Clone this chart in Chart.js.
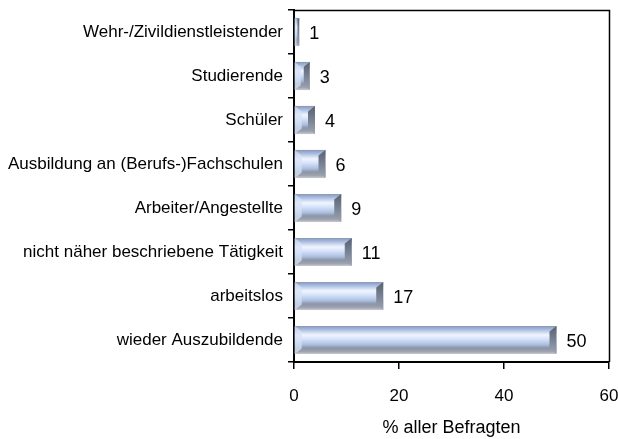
<!DOCTYPE html>
<html>
<head>
<meta charset="utf-8">
<script src="https://cdn.jsdelivr.net/npm/chart.js@4.4.0/dist/chart.umd.min.js"></script>
<style>
  html, body { margin: 0; padding: 0; background: #fff; }
  #wrap { width: 619px; height: 439px; }
</style>
</head>
<body>
<div id="wrap"><canvas id="bar-canvas" width="619" height="439"></canvas></div>
<script>
// data
const categories = [
  'Wehr-/Zivildienstleistender',
  'Studierende',
  'Schüler',
  'Ausbildung an (Berufs-)Fachschulen',
  'Arbeiter/Angestellte',
  'nicht näher beschriebene Tätigkeit',
  'arbeitslos',
  'wieder Auszubildende'
];
const percentValues = [1, 3, 4, 6, 9, 11, 17, 50];
const xTicks = [0, 20, 40, 60];
const axisTitle = '% aller Befragten';

const FONT = '"Liberation Sans", Arial, sans-serif';
const BAR_PCT = 0.64;

// vertical bevel gradient for each bar, from the y scale
function barFill(ctx) {
  const chart = ctx.chart;
  const ys = chart.scales.y;
  if (!ys || !ys.height) return '#b8c8e6';
  const mid = ys.getPixelForValue(ctx.dataIndex);
  const h = ys.height / categories.length * BAR_PCT;
  const top = mid - h / 2, bot = mid + h / 2;
  const g = chart.ctx.createLinearGradient(0, top, 0, bot);
  g.addColorStop(0, '#8796b4');
  g.addColorStop(0.12, '#a6badf');
  g.addColorStop(0.32, '#f0f6ff');
  g.addColorStop(0.48, '#d2e0f8');
  g.addColorStop(0.66, '#adbfe0');
  g.addColorStop(0.78, '#8c95a8');
  g.addColorStop(0.9, '#9aa1ae');
  g.addColorStop(1, '#c6cad2');
  return g;
}

// end caps + value labels + frame
const decor = {
  id: 'decor',
  afterDatasetsDraw(chart) {
    const c = chart.ctx;
    const meta = chart.getDatasetMeta(0);
    meta.data.forEach((bar, i) => {
      const top = bar.y - bar.height / 2, h = bar.height;
      const left = bar.base, right = bar.x;
      const cap = Math.min(7, (right - left) / 2.5);
      // right end bevel
      const g = c.createLinearGradient(0, top, 0, top + h);
      g.addColorStop(0, '#58606e');
      g.addColorStop(0.5, '#788294');
      g.addColorStop(1, '#a0a6b0');
      c.save();
      c.fillStyle = g;
      c.beginPath();
      c.moveTo(right, top);
      c.lineTo(right, top + h);
      c.lineTo(right - cap, top + h - cap * 0.8);
      c.lineTo(right - cap, top + cap * 0.8);
      c.closePath();
      c.fill();
      // left end bevel (lighter)
      c.fillStyle = 'rgba(214,226,246,0.75)';
      c.beginPath();
      c.moveTo(left, top);
      c.lineTo(left + cap, top + cap * 0.8);
      c.lineTo(left + cap, top + h - cap * 0.8);
      c.lineTo(left, top + h);
      c.closePath();
      c.fill();
      c.restore();

      c.save();
      c.fillStyle = '#000';
      c.font = '18px ' + FONT;
      c.textBaseline = 'middle';
      c.textAlign = 'left';
      c.fillText(String(percentValues[i]), right + 10, bar.y + 2);
      c.restore();
    });
    const a = chart.chartArea;
    c.save();
    c.strokeStyle = '#000';
    c.lineWidth = 1.5;
    c.beginPath();
    c.moveTo(a.left, a.top + 0.5);
    c.lineTo(a.right + 0.5, a.top + 0.5);
    c.lineTo(a.right + 0.5, a.bottom);
    c.stroke();
    c.restore();
  }
};

new Chart('bar-canvas', {
  type: 'bar',
  data: {
    labels: categories,
    datasets: [{
      data: percentValues,
      backgroundColor: barFill,
      borderWidth: 0,
      barPercentage: BAR_PCT,
      categoryPercentage: 1
    }]
  },
  options: {
    indexAxis: 'y',
    responsive: false,
    animation: false,
    layout: { padding: { top: 10, right: 10, left: 0, bottom: 0 } },
    plugins: {
      legend: { display: false },
      tooltip: { enabled: false }
    },
    scales: {
      x: {
        min: 0,
        max: 60,
        afterBuildTicks: (s) => { s.ticks = xTicks.map(v => ({ value: v })); },
        afterFit: (s) => { s.height = 77; s.paddingLeft = 0; s.paddingRight = 0; },
        border: { display: true, color: '#000', width: 2 },
        grid: { drawOnChartArea: false, drawTicks: true, tickLength: 7, color: '#000', lineWidth: 1.5 },
        ticks: { color: '#000', font: { family: FONT, size: 17 }, padding: 17, maxRotation: 0 },
        title: { display: true, text: axisTitle, color: '#000', font: { family: FONT, size: 18 }, padding: { top: 4, bottom: 0 } }
      },
      y: {
        afterFit: (s) => { s.width = 294; s.paddingTop = 0; s.paddingBottom = 0; },
        border: { display: true, color: '#000', width: 2 },
        grid: { drawOnChartArea: false, drawTicks: true, tickLength: 6, offset: true, color: '#000', lineWidth: 1.5 },
        ticks: { color: '#000', font: { family: FONT, size: 17 }, padding: 5, autoSkip: false }
      }
    }
  },
  plugins: [decor]
});
</script>
</body>
</html>
